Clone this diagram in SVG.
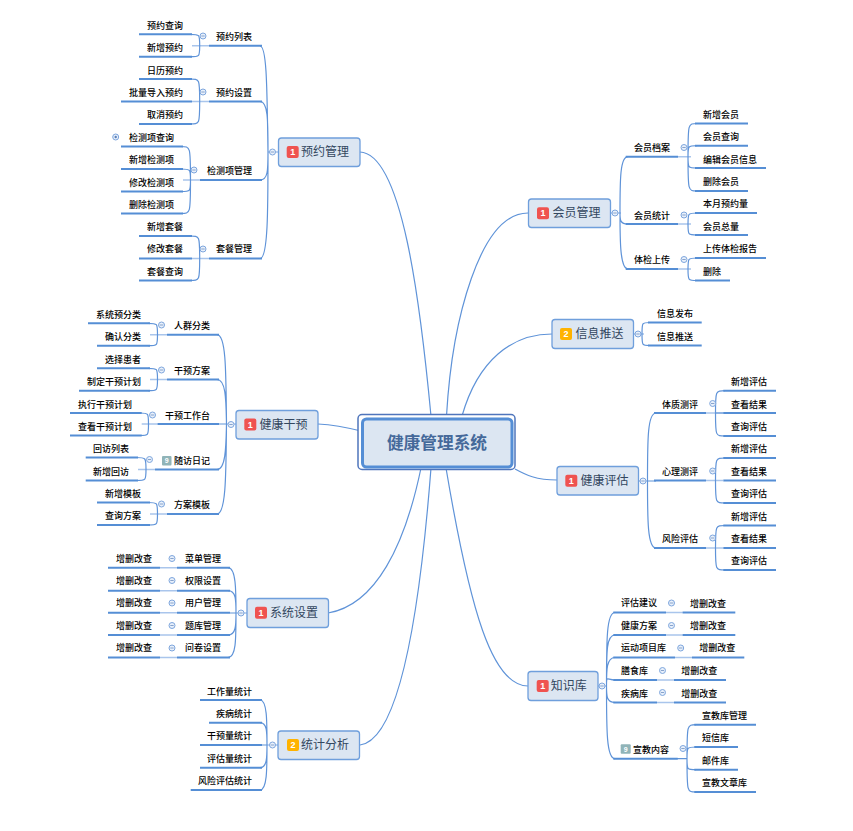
<svg xmlns="http://www.w3.org/2000/svg" width="853" height="831" viewBox="0 0 853 831">
<style>
text{font-family:"Noto Sans CJK SC","Liberation Sans",sans-serif;dominant-baseline:central}
.t{font-size:9px;font-weight:500;fill:#000;transform:translateY(-.8px)}
.m{font-size:12px;fill:#33475f;transform:translateY(-1.2px)}
.c{font-size:16.700px;font-weight:700;fill:#45699a;text-anchor:middle;transform:translateY(-1px)}
.u{stroke:#558ed5;stroke-width:2;fill:none}
.l{stroke:#a9c5ec;stroke-width:1.500;fill:none}
.k{stroke:#5f93d8;stroke-width:1.200;fill:none}
.box{fill:#dce6f2;stroke:#6f9fdc;stroke-width:1.300}
.b{font-size:9px;font-weight:700;fill:#fff;text-anchor:middle;font-family:"Liberation Sans",sans-serif}
.r{fill:#ef5350}.a{fill:#ffb300}.g{fill:#90b4b8}
</style>
<defs>
<g id="minus"><circle r="3" fill="#e8f0fb" stroke="#7ea6dd" stroke-width="1"/><path d="M-1.700 0H1.700" stroke="#6f8fc0" stroke-width=".8"/></g>
<g id="plus"><circle r="3" fill="#e8f0fb" stroke="#7ea6dd" stroke-width="1"/><circle r="1.200" fill="#5a7fb8"/></g>
</defs>
<g id="connectors">
<path class="k" d="M360 152C402 154 420 300 431 416M528 213C480 213 452 320 446.500 416M552 334C512 334 478 360 462 416M515 469C526 475 536 480 557 480M528 686C492 686 470 610 446 468M328 613C376 605 405 545 421 468M360 745C400 740 420 610 431 468M318 424C335 425 345 427 361 431"/>
<path class="l" d="M268 152H278M192 45.700H209M192 101.500H209M183 180H200M192 258.500H209"/>
<path class="k" d="M268 152C267 90 267 46 260 46M268 152C268 170 268 180 260 180M268 152C268 210 268 258.500 260 258.500M268 152C268 120 268 101.500 260 101.500"/>
<path class="k" d="M199.700 45.700C199.700 34.300 199.700 34.300 190 34.300M199.700 45.700C199.700 56.700 199.700 56.700 190 56.700M199.700 101.500C199.700 79 199.700 79 190 79M199.700 101.500C199.700 124 199.700 124 190 124"/>
<path class="k" d="M190.500 180C190.500 146.500 190.500 146.500 181 146.500M190.500 180C190.500 169 190.500 169 181 169M190.500 180C190.500 191.500 190.500 191.500 181 191.500M190.500 180C190.500 213.500 190.500 213.500 181 213.500"/>
<path class="k" d="M199.700 258.500C199.700 236 199.700 236 190 236M199.700 258.500C199.700 280.500 199.700 280.500 190 280.500"/>
<path class="l" d="M226 424H236M150 334.700H167M150 379.500H167M141.700 424H157.500M138 469.500H155M150 514H167"/>
<path class="k" d="M226.500 424C226 370 226 334.700 217 334.700M226.500 424C226 400 226 379.500 217 379.500M226.500 424C226 445 226 469.500 217 469.500M226.500 424C226 475 226 514 217 514M219 424H226.500"/>
<path class="k" d="M157.500 334.700C157.500 323.300 157.500 323.300 148 323.300M157.500 334.700C157.500 345.700 157.500 345.700 148 345.700M157.500 379.500C157.500 368.300 157.500 368.300 148 368.300M157.500 379.500C157.500 390.700 157.500 390.700 148 390.700M148.500 424C148.500 413 148.500 413 140 413M148.500 424C148.500 435.500 148.500 435.500 140 435.500M146 469.500C146 457.500 146 457.500 136 457.500M146 469.500C146 480.500 146 480.500 136 480.500M157.500 514C157.500 502.500 157.500 502.500 148 502.500M157.500 514C157.500 525 157.500 525 148 525"/>
<path class="l" d="M236 613H247M160 567.700H177M160 590.700H177M160 612.700H177M160 635H177M160 657.500H177"/>
<path class="k" d="M236 613C236 590 236 567.700 228 567.700M236 613C236 600 236 590.700 228 590.700M236 613H230M236 613C236 625 236 635 228 635M236 613C236 640 236 657.500 228 657.500"/>
<path class="l" d="M267 745H278"/>
<path class="k" d="M267 745C267 720 267 700 260 700M267 745C267 732 267 722.700 260 722.700M267 745H262M267 745C267 757 267 767.700 260 767.700M267 745C267 770 267 790 260 790"/>
<path class="l" d="M610 213H621M678 156.700H691M678 224H691M678 269H691M633 334H644"/>
<path class="k" d="M620 213C620 180 620 156.700 628 156.700M620 213C620 220 620 224 628 224M620 213C620 240 620 269 628 269"/>
<path class="k" d="M688 156.700C688 123.500 688 123.500 697 123.500M688 156.700C688 145.700 688 145.700 697 145.700M688 156.700C688 168 688 168 697 168M688 156.700C688 191 688 191 697 191M688 224C688 213 688 213 697 213M688 224C688 235 688 235 697 235M688 269C688 258 688 258 697 258M688 269C688 280.500 688 280.500 697 280.500"/>
<path class="k" d="M642 334C642 322.500 642 322.500 650 322.500M642 334C642 345.500 642 345.500 650 345.500"/>
<path class="l" d="M638 481H648M706 413H723M706 480.500H723M706 548H723"/>
<path class="k" d="M647.500 481C647.500 440 647.500 413 656 413M647.500 481H656M647.500 481C647.500 520 647.500 548 656 548"/>
<path class="k" d="M715.500 413C715.500 390.700 715.500 390.700 725 390.700M715.500 413H725M715.500 413C715.500 436 715.500 436 725 436M715.500 480.500C715.500 458 715.500 458 725 458M715.500 480.500C715.500 503 715.500 503 725 503M715.500 548C715.500 525.500 715.500 525.500 725 525.500M715.500 548C715.500 570 715.500 570 725 570"/>
<path class="l" d="M597 686H607M666 612.500H683M666 635H683M675 657.500H692M657 680H674M657 702.500H674"/>
<path class="k" d="M606.500 686C606.500 640 606.500 612.500 615 612.500M606.500 686C606.500 650 606.500 635 615 635M606.500 686C606.500 670 606.500 657.500 615 657.500M606.500 686C606.500 675 606.500 680 615 680M606.500 686C606.500 696 606.500 702.500 615 702.500M606.500 686C606.500 730 606.500 758.700 615 758.700"/>
<path class="k" d="M687 758.700C687 724.700 687 724.700 696 724.700M687 758.700C687 747 687 747 696 747M687 758.700C687 769.700 687 769.700 696 769.700M687 758.700C687 792 687 792 696 792M677 758.700H687"/>
</g>

<g id="central"><rect x="358" y="414.500" width="157" height="55" rx="4" fill="#fff" stroke="#4f75bc" stroke-width="1.500"/><rect x="362.500" y="419" width="149.500" height="48" rx="4" fill="#dce6f2" stroke="#558ed5" stroke-width="3"/><text class="c" x="437" y="443">健康管理系统</text></g>

<g id="n-yygl"><rect class="box" x="278.500" y="138" width="81.500" height="28.500" rx="3"/><rect class="r" x="286.700" y="146" width="12" height="12" rx="2"/><text class="b" x="292.700" y="152">1</text><text class="m" x="301" y="152">预约管理</text><use href="#minus" x="272.500" y="152"/></g>
<g id="n-hygl"><rect class="box" x="528.500" y="199" width="82" height="28.500" rx="3"/><rect class="r" x="537" y="207.300" width="12" height="12" rx="2"/><text class="b" x="543" y="213.300">1</text><text class="m" x="552.500" y="213">会员管理</text><use href="#minus" x="615" y="213"/></g>
<g id="n-xxts"><rect class="box" x="552" y="319.500" width="81.500" height="29" rx="3"/><rect class="a" x="560" y="328" width="12" height="12" rx="2"/><text class="b" x="566" y="334">2</text><text class="m" x="575.500" y="334">信息推送</text><use href="#minus" x="638" y="334"/></g>
<g id="n-jkpg"><rect class="box" x="557" y="466.500" width="81.500" height="28.500" rx="3"/><rect class="r" x="565.300" y="474.700" width="12" height="12" rx="2"/><text class="b" x="571.300" y="480.700">1</text><text class="m" x="580.500" y="481">健康评估</text><use href="#minus" x="643" y="481"/></g>
<g id="n-zsk"><rect class="box" x="528" y="671.500" width="70" height="29" rx="3"/><rect class="r" x="536.700" y="680" width="12" height="12" rx="2"/><text class="b" x="542.700" y="686">1</text><text class="m" x="550.700" y="686">知识库</text><use href="#minus" x="602" y="686"/></g>
<g id="n-tjfx"><rect class="box" x="278" y="731" width="81.500" height="28.500" rx="3"/><rect class="a" x="287" y="739" width="12" height="12" rx="2"/><text class="b" x="293" y="745">2</text><text class="m" x="301" y="745">统计分析</text><use href="#minus" x="272.500" y="745"/></g>
<g id="n-xtsz"><rect class="box" x="247" y="598.500" width="81.500" height="29" rx="3"/><rect class="r" x="255" y="606.700" width="12" height="12" rx="2"/><text class="b" x="261" y="612.700">1</text><text class="m" x="270" y="613">系统设置</text><use href="#minus" x="241" y="613"/></g>
<g id="n-jkgy"><rect class="box" x="236" y="410.500" width="82" height="28.500" rx="3"/><rect class="r" x="244.300" y="418.500" width="12" height="12" rx="2"/><text class="b" x="250.300" y="424.500">1</text><text class="m" x="259.500" y="424.500">健康干预</text><use href="#minus" x="231" y="424.500"/></g>

<g id="group-yuyue">
<g id="a1"><path class="u" d="M139 34.300H192"/><text class="t" x="147" y="26">预约查询</text></g>
<g id="a2"><path class="u" d="M139 56.700H192"/><text class="t" x="147" y="48">新增预约</text></g>
<g id="a3"><path class="u" d="M209 45.700H262"/><text class="t" x="216" y="37">预约列表</text><use href="#minus" x="203" y="36"/></g>
<g id="a4"><path class="u" d="M139 79H192"/><text class="t" x="147" y="71">日历预约</text></g>
<g id="a5"><path class="u" d="M121 101.500H192"/><text class="t" x="129" y="93">批量导入预约</text></g>
<g id="a6"><path class="u" d="M139 124H192"/><text class="t" x="147" y="115">取消预约</text></g>
<g id="a7"><path class="u" d="M209 101.500H262"/><text class="t" x="216" y="93">预约设置</text><use href="#minus" x="203" y="92"/></g>
<g id="a8"><path class="u" d="M121 146.500H183"/><text class="t" x="129" y="138">检测项查询</text><use href="#plus" x="115.700" y="137"/></g>
<g id="a9"><path class="u" d="M121 169H183"/><text class="t" x="129" y="160">新增检测项</text></g>
<g id="a10"><path class="u" d="M121 191.500H183"/><text class="t" x="129" y="183">修改检测项</text></g>
<g id="a11"><path class="u" d="M121 213.500H183"/><text class="t" x="129" y="205">删除检测项</text></g>
<g id="a12"><path class="u" d="M200 180H262"/><text class="t" x="207" y="171">检测项管理</text><use href="#minus" x="194" y="170"/></g>
<g id="a13"><path class="u" d="M139 236H192"/><text class="t" x="147" y="227">新增套餐</text></g>
<g id="a14"><path class="u" d="M139 258.500H192"/><text class="t" x="147" y="249">修改套餐</text></g>
<g id="a15"><path class="u" d="M139 280.500H192"/><text class="t" x="147" y="272">套餐查询</text></g>
<g id="a16"><path class="u" d="M209 258.500H262"/><text class="t" x="216" y="249">套餐管理</text><use href="#minus" x="203" y="249"/></g>
</g>

<g id="group-ganyu">
<g id="b1"><path class="u" d="M88 323.300H150"/><text class="t" x="96" y="315">系统预分类</text></g>
<g id="b2"><path class="u" d="M97 345.700H150"/><text class="t" x="105" y="337.500">确认分类</text></g>
<g id="b3"><path class="u" d="M167 334.700H219"/><text class="t" x="174" y="326">人群分类</text><use href="#minus" x="161.500" y="325"/></g>
<g id="b4"><path class="u" d="M97 368.300H150"/><text class="t" x="105" y="360">选择患者</text></g>
<g id="b5"><path class="u" d="M79 390.700H150"/><text class="t" x="87" y="382">制定干预计划</text></g>
<g id="b6"><path class="u" d="M167 379.500H219"/><text class="t" x="174" y="371">干预方案</text><use href="#minus" x="161.500" y="370"/></g>
<g id="b7"><path class="u" d="M70 413H141.700"/><text class="t" x="78" y="405">执行干预计划</text></g>
<g id="b8"><path class="u" d="M70 435.500H141.700"/><text class="t" x="78" y="427">查看干预计划</text></g>
<g id="b9"><path class="u" d="M157.500 424H219"/><text class="t" x="165" y="416">干预工作台</text><use href="#minus" x="152.500" y="415"/></g>
<g id="b10"><path class="u" d="M85.700 457.500H138"/><text class="t" x="93" y="449">回访列表</text></g>
<g id="b11"><path class="u" d="M85.700 480.500H138"/><text class="t" x="93" y="472">新增回访</text></g>
<g id="b12"><path class="u" d="M155 469.500H219"/><rect class="g" x="162" y="456" width="9.500" height="9.500" rx="1"/><text class="b" x="166.700" y="460.800" style="font-size:7px">9</text><text class="t" x="174" y="461">随访日记</text><use href="#minus" x="149.500" y="459.500"/></g>
<g id="b13"><path class="u" d="M97 502.500H150"/><text class="t" x="105" y="494">新增模板</text></g>
<g id="b14"><path class="u" d="M97 525H150"/><text class="t" x="105" y="516">查询方案</text></g>
<g id="b15"><path class="u" d="M167 514H219"/><text class="t" x="174" y="505">方案模板</text><use href="#minus" x="161.500" y="504"/></g>
</g>

<g id="group-xitong">
<g id="c1"><path class="u" d="M108 567.700H160"/><text class="t" x="116" y="559">增删改查</text></g>
<g id="c2"><path class="u" d="M177 567.700H230"/><text class="t" x="185" y="559">菜单管理</text><use href="#minus" x="172" y="558.500"/></g>
<g id="c3"><path class="u" d="M108 590.700H160"/><text class="t" x="116" y="581.500">增删改查</text></g>
<g id="c4"><path class="u" d="M177 590.700H230"/><text class="t" x="185" y="581.500">权限设置</text><use href="#minus" x="172" y="580.500"/></g>
<g id="c5"><path class="u" d="M108 612.700H160"/><text class="t" x="116" y="603.500">增删改查</text></g>
<g id="c6"><path class="u" d="M177 612.700H230"/><text class="t" x="185" y="603.500">用户管理</text><use href="#minus" x="172" y="603"/></g>
<g id="c7"><path class="u" d="M108 635H160"/><text class="t" x="116" y="626">增删改查</text></g>
<g id="c8"><path class="u" d="M177 635H230"/><text class="t" x="185" y="626">题库管理</text><use href="#minus" x="172" y="625.500"/></g>
<g id="c9"><path class="u" d="M108 657.500H160"/><text class="t" x="116" y="648.500">增删改查</text></g>
<g id="c10"><path class="u" d="M177 657.500H230"/><text class="t" x="185" y="648.500">问卷设置</text><use href="#minus" x="172" y="648"/></g>
</g>

<g id="group-tongji">
<g id="d1"><path class="u" d="M200 700H262"/><text class="t" x="207" y="692">工作量统计</text></g>
<g id="d2"><path class="u" d="M209 722.700H262"/><text class="t" x="216" y="714">疾病统计</text></g>
<g id="d3"><path class="u" d="M200 745H262"/><text class="t" x="207" y="736.500">干预量统计</text></g>
<g id="d4"><path class="u" d="M200 767.700H262"/><text class="t" x="207" y="759">评估量统计</text></g>
<g id="d5"><path class="u" d="M190.700 790H262"/><text class="t" x="198" y="781">风险评估统计</text></g>
</g>

<g id="group-huiyuan">
<g id="e1"><path class="u" d="M625.700 156.700H678"/><text class="t" x="634" y="148">会员档案</text><use href="#minus" x="684" y="147.500"/></g>
<g id="e2"><path class="u" d="M695 123.500H748"/><text class="t" x="703" y="115">新增会员</text></g>
<g id="e3"><path class="u" d="M695 145.700H748"/><text class="t" x="703" y="137">会员查询</text></g>
<g id="e4"><path class="u" d="M695 168H766"/><text class="t" x="703" y="160">编辑会员信息</text></g>
<g id="e5"><path class="u" d="M695 191H748"/><text class="t" x="703" y="182">删除会员</text></g>
<g id="e6"><path class="u" d="M625.700 224H678"/><text class="t" x="634" y="216">会员统计</text><use href="#minus" x="684" y="215"/></g>
<g id="e7"><path class="u" d="M695 213H757"/><text class="t" x="703" y="204.500">本月预约量</text></g>
<g id="e8"><path class="u" d="M695 235H748"/><text class="t" x="703" y="227">会员总量</text></g>
<g id="e9"><path class="u" d="M625.700 269H678"/><text class="t" x="634" y="260">体检上传</text><use href="#minus" x="684" y="259.500"/></g>
<g id="e10"><path class="u" d="M695 258H766"/><text class="t" x="703" y="249.500">上传体检报告</text></g>
<g id="e11"><path class="u" d="M695 280.500H730"/><text class="t" x="703" y="272">删除</text></g>
</g>

<g id="group-xinxi">
<g id="f1"><path class="u" d="M648 322.500H701.700"/><text class="t" x="657" y="314">信息发布</text></g>
<g id="f2"><path class="u" d="M648 345.500H701.700"/><text class="t" x="657" y="337">信息推送</text></g>
</g>

<g id="group-pinggu">
<g id="g1"><path class="u" d="M654 413H706"/><text class="t" x="662" y="405">体质测评</text><use href="#minus" x="712.700" y="403.500"/></g>
<g id="g2"><path class="u" d="M723.300 390.700H776"/><text class="t" x="731" y="382">新增评估</text></g>
<g id="g3"><path class="u" d="M723.300 413H776"/><text class="t" x="731" y="405">查看结果</text></g>
<g id="g4"><path class="u" d="M723.300 436H776"/><text class="t" x="731" y="427">查询评估</text></g>
<g id="g5"><path class="u" d="M654 480.500H706"/><text class="t" x="662" y="472">心理测评</text><use href="#minus" x="712.700" y="471"/></g>
<g id="g6"><path class="u" d="M723.300 458H776"/><text class="t" x="731" y="449">新增评估</text></g>
<g id="g7"><path class="u" d="M723.300 480.500H776"/><text class="t" x="731" y="472">查看结果</text></g>
<g id="g8"><path class="u" d="M723.300 503H776"/><text class="t" x="731" y="494">查询评估</text></g>
<g id="g9"><path class="u" d="M654 548H706"/><text class="t" x="662" y="539">风险评估</text><use href="#minus" x="712.700" y="538"/></g>
<g id="g10"><path class="u" d="M723.300 525.500H776"/><text class="t" x="731" y="517">新增评估</text></g>
<g id="g11"><path class="u" d="M723.300 548H776"/><text class="t" x="731" y="539">查看结果</text></g>
<g id="g12"><path class="u" d="M723.300 570H776"/><text class="t" x="731" y="561">查询评估</text></g>
</g>

<g id="group-zhishi">
<g id="h1"><path class="u" d="M613.300 612.500H666"/><text class="t" x="621" y="603.500">评估建议</text><use href="#minus" x="671.500" y="603"/></g>
<g id="h2"><path class="u" d="M682.700 612.500H735.300"/><text class="t" x="690" y="604">增删改查</text></g>
<g id="h3"><path class="u" d="M613.300 635H666"/><text class="t" x="621" y="626">健康方案</text><use href="#minus" x="671.500" y="625.500"/></g>
<g id="h4"><path class="u" d="M682.700 635H735.300"/><text class="t" x="690" y="626">增删改查</text></g>
<g id="h5"><path class="u" d="M613.300 657.500H675"/><text class="t" x="621" y="648.500">运动项目库</text><use href="#minus" x="680.700" y="648"/></g>
<g id="h6"><path class="u" d="M692 657.500H744.300"/><text class="t" x="699.300" y="648.500">增删改查</text></g>
<g id="h7"><path class="u" d="M613.300 680H657"/><text class="t" x="621" y="671">膳食库</text><use href="#minus" x="662.500" y="670.500"/></g>
<g id="h8"><path class="u" d="M674 680H726"/><text class="t" x="681.300" y="671">增删改查</text></g>
<g id="h9"><path class="u" d="M613.300 702.500H657"/><text class="t" x="621" y="694">疾病库</text><use href="#minus" x="662.500" y="692.500"/></g>
<g id="h10"><path class="u" d="M674 702.500H726"/><text class="t" x="681.300" y="694">增删改查</text></g>
<g id="h11"><path class="u" d="M613.300 758.700H677.700"/><rect class="g" x="620.700" y="744.300" width="10" height="9.500" rx="1"/><text class="b" x="625.700" y="749.200" style="font-size:7px">9</text><text class="t" x="633" y="750">宣教内容</text><use href="#minus" x="683" y="748.500"/></g>
<g id="h12"><path class="u" d="M694.300 724.700H756"/><text class="t" x="702" y="716">宣教库管理</text></g>
<g id="h13"><path class="u" d="M694.300 747H738"/><text class="t" x="702" y="738">短信库</text></g>
<g id="h14"><path class="u" d="M694.300 769.700H738"/><text class="t" x="702" y="761">邮件库</text></g>
<g id="h15"><path class="u" d="M694.300 792H756"/><text class="t" x="702" y="783">宣教文章库</text></g>
</g>
</svg>
